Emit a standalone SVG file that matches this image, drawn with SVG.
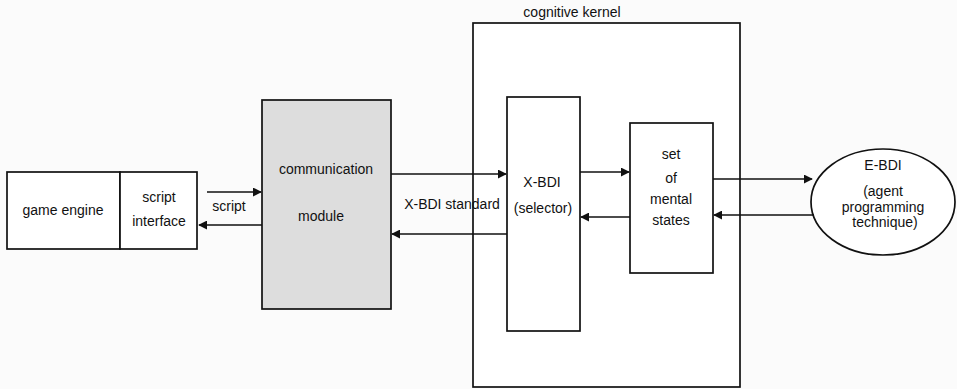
<svg xmlns="http://www.w3.org/2000/svg" width="957" height="389" viewBox="0 0 957 389">
<defs>
<marker id="ah" viewBox="0 0 10 10" refX="9" refY="5" markerWidth="9" markerHeight="9" markerUnits="userSpaceOnUse" orient="auto">
<path d="M0,0 L10,5 L0,10 z" fill="#111"/>
</marker>
<style>
.box{fill:#fff;stroke:#111;stroke-width:1.7}
.gray{fill:#dddddd;stroke:#111;stroke-width:1.7}
.ln{stroke:#111;stroke-width:1.5;fill:none}
text{font-family:"Liberation Sans",Arial,sans-serif;font-size:14px;fill:#111;text-anchor:middle}
</style>
</defs>
<rect width="957" height="389" fill="#fbfbfb"/>
<g id="game-engine">
<rect class="box" x="7" y="172" width="113" height="77"/>
<text x="63" y="215">game engine</text>
</g>
<g id="script-interface">
<rect class="box" x="120" y="172" width="77" height="77"/>
<text x="159" y="202">script</text>
<text x="159" y="226">interface</text>
</g>
<g id="communication-module">
<rect class="gray" x="262" y="100" width="129" height="209"/>
<text x="326" y="174">communication</text>
<text x="321" y="221">module</text>
</g>
<g id="cognitive-kernel">
<rect class="box" x="473" y="23" width="267" height="364"/>
<text x="572" y="17">cognitive kernel</text>
</g>
<g id="x-bdi">
<rect class="box" x="507" y="97" width="73" height="234"/>
<text x="542" y="187">X-BDI</text>
<text x="543" y="213">(selector)</text>
</g>
<g id="mental-states">
<rect class="box" x="630" y="123" width="83" height="150"/>
<text x="671" y="159">set</text>
<text x="671" y="183">of</text>
<text x="671" y="204">mental</text>
<text x="671" y="225">states</text>
</g>
<g id="e-bdi">
<ellipse class="box" cx="883" cy="202" rx="72" ry="53"/>
<text x="883" y="170">E-BDI</text>
<text x="883" y="196">(agent</text>
<text x="883" y="212">programming</text>
<text x="885" y="227">technique)</text>
</g>
<g id="connectors">
<line class="ln" x1="207" y1="192" x2="261" y2="192" marker-end="url(#ah)"/>
<line class="ln" x1="262" y1="225" x2="199" y2="225" marker-end="url(#ah)"/>
<text x="229" y="211">script</text>
<line class="ln" x1="391" y1="174" x2="506" y2="174" marker-end="url(#ah)"/>
<line class="ln" x1="507" y1="234" x2="392" y2="234" marker-end="url(#ah)"/>
<text x="452" y="209">X-BDI standard</text>
<line class="ln" x1="580" y1="172" x2="629" y2="172" marker-end="url(#ah)"/>
<line class="ln" x1="630" y1="217" x2="581" y2="217" marker-end="url(#ah)"/>
<line class="ln" x1="713" y1="179" x2="812" y2="179" marker-end="url(#ah)"/>
<line class="ln" x1="814" y1="215" x2="714" y2="215" marker-end="url(#ah)"/>
</g>
</svg>
